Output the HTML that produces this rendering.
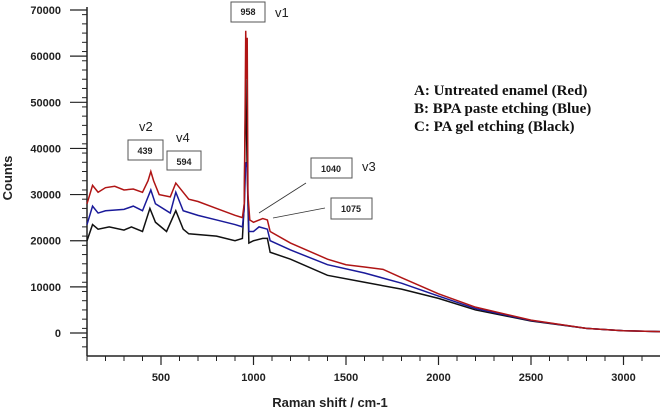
<!DOCTYPE html>
<html><head><meta charset="utf-8"><style>
body{margin:0;background:#fff}
svg text{font-family:"Liberation Sans",Arial,sans-serif}
</style></head><body>
<svg id="chart" width="660" height="411" viewBox="0 0 660 411" xmlns="http://www.w3.org/2000/svg">
<g id="axes"></g>
<g id="series"></g>
<g font-size="10" font-weight="bold" fill="#222">
<rect x="231" y="2" width="34" height="20" fill="#fff" stroke="#555"/><text x="248" y="15" text-anchor="middle" font-size="9">958</text>
<text x="275" y="17" font-size="13" font-weight="normal">v1</text>
<rect x="128" y="140" width="35" height="20" fill="#fff" stroke="#555"/><text x="145" y="154" text-anchor="middle" font-size="9">439</text>
<text x="139" y="131" font-size="13" font-weight="normal">v2</text>
<rect x="167" y="151" width="34" height="19" fill="#fff" stroke="#555"/><text x="184" y="165" text-anchor="middle" font-size="9">594</text>
<text x="176" y="142" font-size="13" font-weight="normal">v4</text>
<rect x="311" y="158" width="41" height="20" fill="#fff" stroke="#555"/><text x="331" y="172" text-anchor="middle" font-size="9">1040</text>
<text x="362" y="171" font-size="13" font-weight="normal">v3</text>
<rect x="331" y="198" width="41" height="21" fill="#fff" stroke="#555"/><text x="351" y="212" text-anchor="middle" font-size="9">1075</text>
<line x1="259" y1="213" x2="306" y2="183" stroke="#333" stroke-width="0.8"/>
<line x1="273" y1="218" x2="325" y2="208" stroke="#333" stroke-width="0.8"/>
</g>
<g font-weight="bold" font-size="15" fill="#111">
<text x="414" y="95" style="font-family:'Liberation Serif',serif">A: Untreated enamel (Red)</text>
<text x="414" y="113" style="font-family:'Liberation Serif',serif">B: BPA paste etching (Blue)</text>
<text x="414" y="131" style="font-family:'Liberation Serif',serif">C: PA gel etching (Black)</text>
</g>
<text x="330" y="407" text-anchor="middle" font-size="13" font-weight="bold" fill="#222">Raman shift / cm-1</text>
<text transform="translate(12,178) rotate(-90)" text-anchor="middle" font-size="13" font-weight="bold" fill="#222">Counts</text>
</svg>
<script>
const redX=[100,130,160,200,250,300,350,400,430,445,460,490,550,580,600,650,700,800,900,940,950,955,958,962,966,970,980,1000,1050,1075,1090,1200,1400,1500,1600,1700,1800,2000,2200,2500,2800,3000,3200];
const redY=[28000,32000,30500,31500,31800,31000,31200,30500,33000,35000,33000,30000,29500,32500,31500,29000,28500,27000,25500,25000,28000,50000,65500,55000,64000,30000,24500,24000,24800,24500,22000,19500,16000,14800,14300,13800,12000,8500,5600,2800,1000,500,300];
const blueX=[100,130,160,200,300,350,400,445,470,550,580,620,700,800,900,940,950,958,966,975,1000,1030,1075,1090,1200,1400,1600,1800,2000,2200,2500,2800,3000,3200];
const blueY=[23500,27500,26000,26500,26800,27500,26500,31000,28000,26000,30500,26500,25500,24500,23500,23000,27000,37000,36000,22000,22000,23000,22500,20000,18000,14800,13000,10800,8000,5300,2700,1000,500,300];
const blackX=[100,130,160,220,300,340,400,440,470,530,580,620,650,800,900,940,950,958,966,975,1000,1050,1075,1090,1200,1400,1600,1800,2000,2200,2500,2800,3000,3200];
const blackY=[20000,23500,22500,23000,22300,23000,22000,27000,24000,22000,26500,22500,21500,21000,20000,20500,28000,55000,35000,19500,20000,20500,20500,17500,16000,12500,11000,9500,7500,5000,2600,1000,500,300];
const yTicks=[0,10000,20000,30000,40000,50000,60000,70000];
const xTicks=[500,1000,1500,2000,2500,3000];
const NS="http://www.w3.org/2000/svg";
const sx=v=>87+(v-100)*0.185;
const sy=v=>333-v*0.004614;
const axes=document.getElementById('axes');
function mk(tag,attrs,parent){const e=document.createElementNS(NS,tag);for(const k in attrs)e.setAttribute(k,attrs[k]);parent.appendChild(e);return e;}
let l=mk('line',{x1:87,y1:7,x2:87,y2:356,stroke:'#222','stroke-width':1.5},axes);


l=mk('line',{x1:87,y1:356,x2:660,y2:356,stroke:'#222','stroke-width':1.5},axes);


for(let v=-5000;v<=70000;v+=2000){if(sy(v)>356)continue;mk('line',{x1:82,y1:sy(v),x2:87,y2:sy(v),stroke:'#222','stroke-width':1},axes);}
yTicks.forEach(v=>{mk('line',{x1:70,y1:sy(v),x2:87,y2:sy(v),stroke:'#222','stroke-width':1.2},axes);
const t=mk('text',{x:61,y:sy(v)+4,'text-anchor':'end','font-size':11,'font-weight':'bold',fill:'#222'},axes);t.textContent=v;

});
for(let v=100;v<=3200;v+=100){mk('line',{x1:sx(v),y1:356,x2:sx(v),y2:361,stroke:'#222','stroke-width':1},axes);}
xTicks.forEach(v=>{mk('line',{x1:sx(v),y1:356,x2:sx(v),y2:365,stroke:'#222','stroke-width':1.2},axes);
const t=mk('text',{x:sx(v),y:381,'text-anchor':'middle','font-size':11,'font-weight':'bold',fill:'#222'},axes);t.textContent=v;

});
const ser=document.getElementById('series');
function line(xs,ys,color,name){const p=mk('polyline',{points:xs.map((x,i)=>sx(x)+','+sy(ys[i])).join(' '),fill:'none',stroke:color,'stroke-width':1.5},ser);

}
line(blackX,blackY,'#111','series-black');
line(blueX,blueY,'#1a1a9a','series-blue');
line(redX,redY,'#b01515','series-red');
</script>
</body></html>
